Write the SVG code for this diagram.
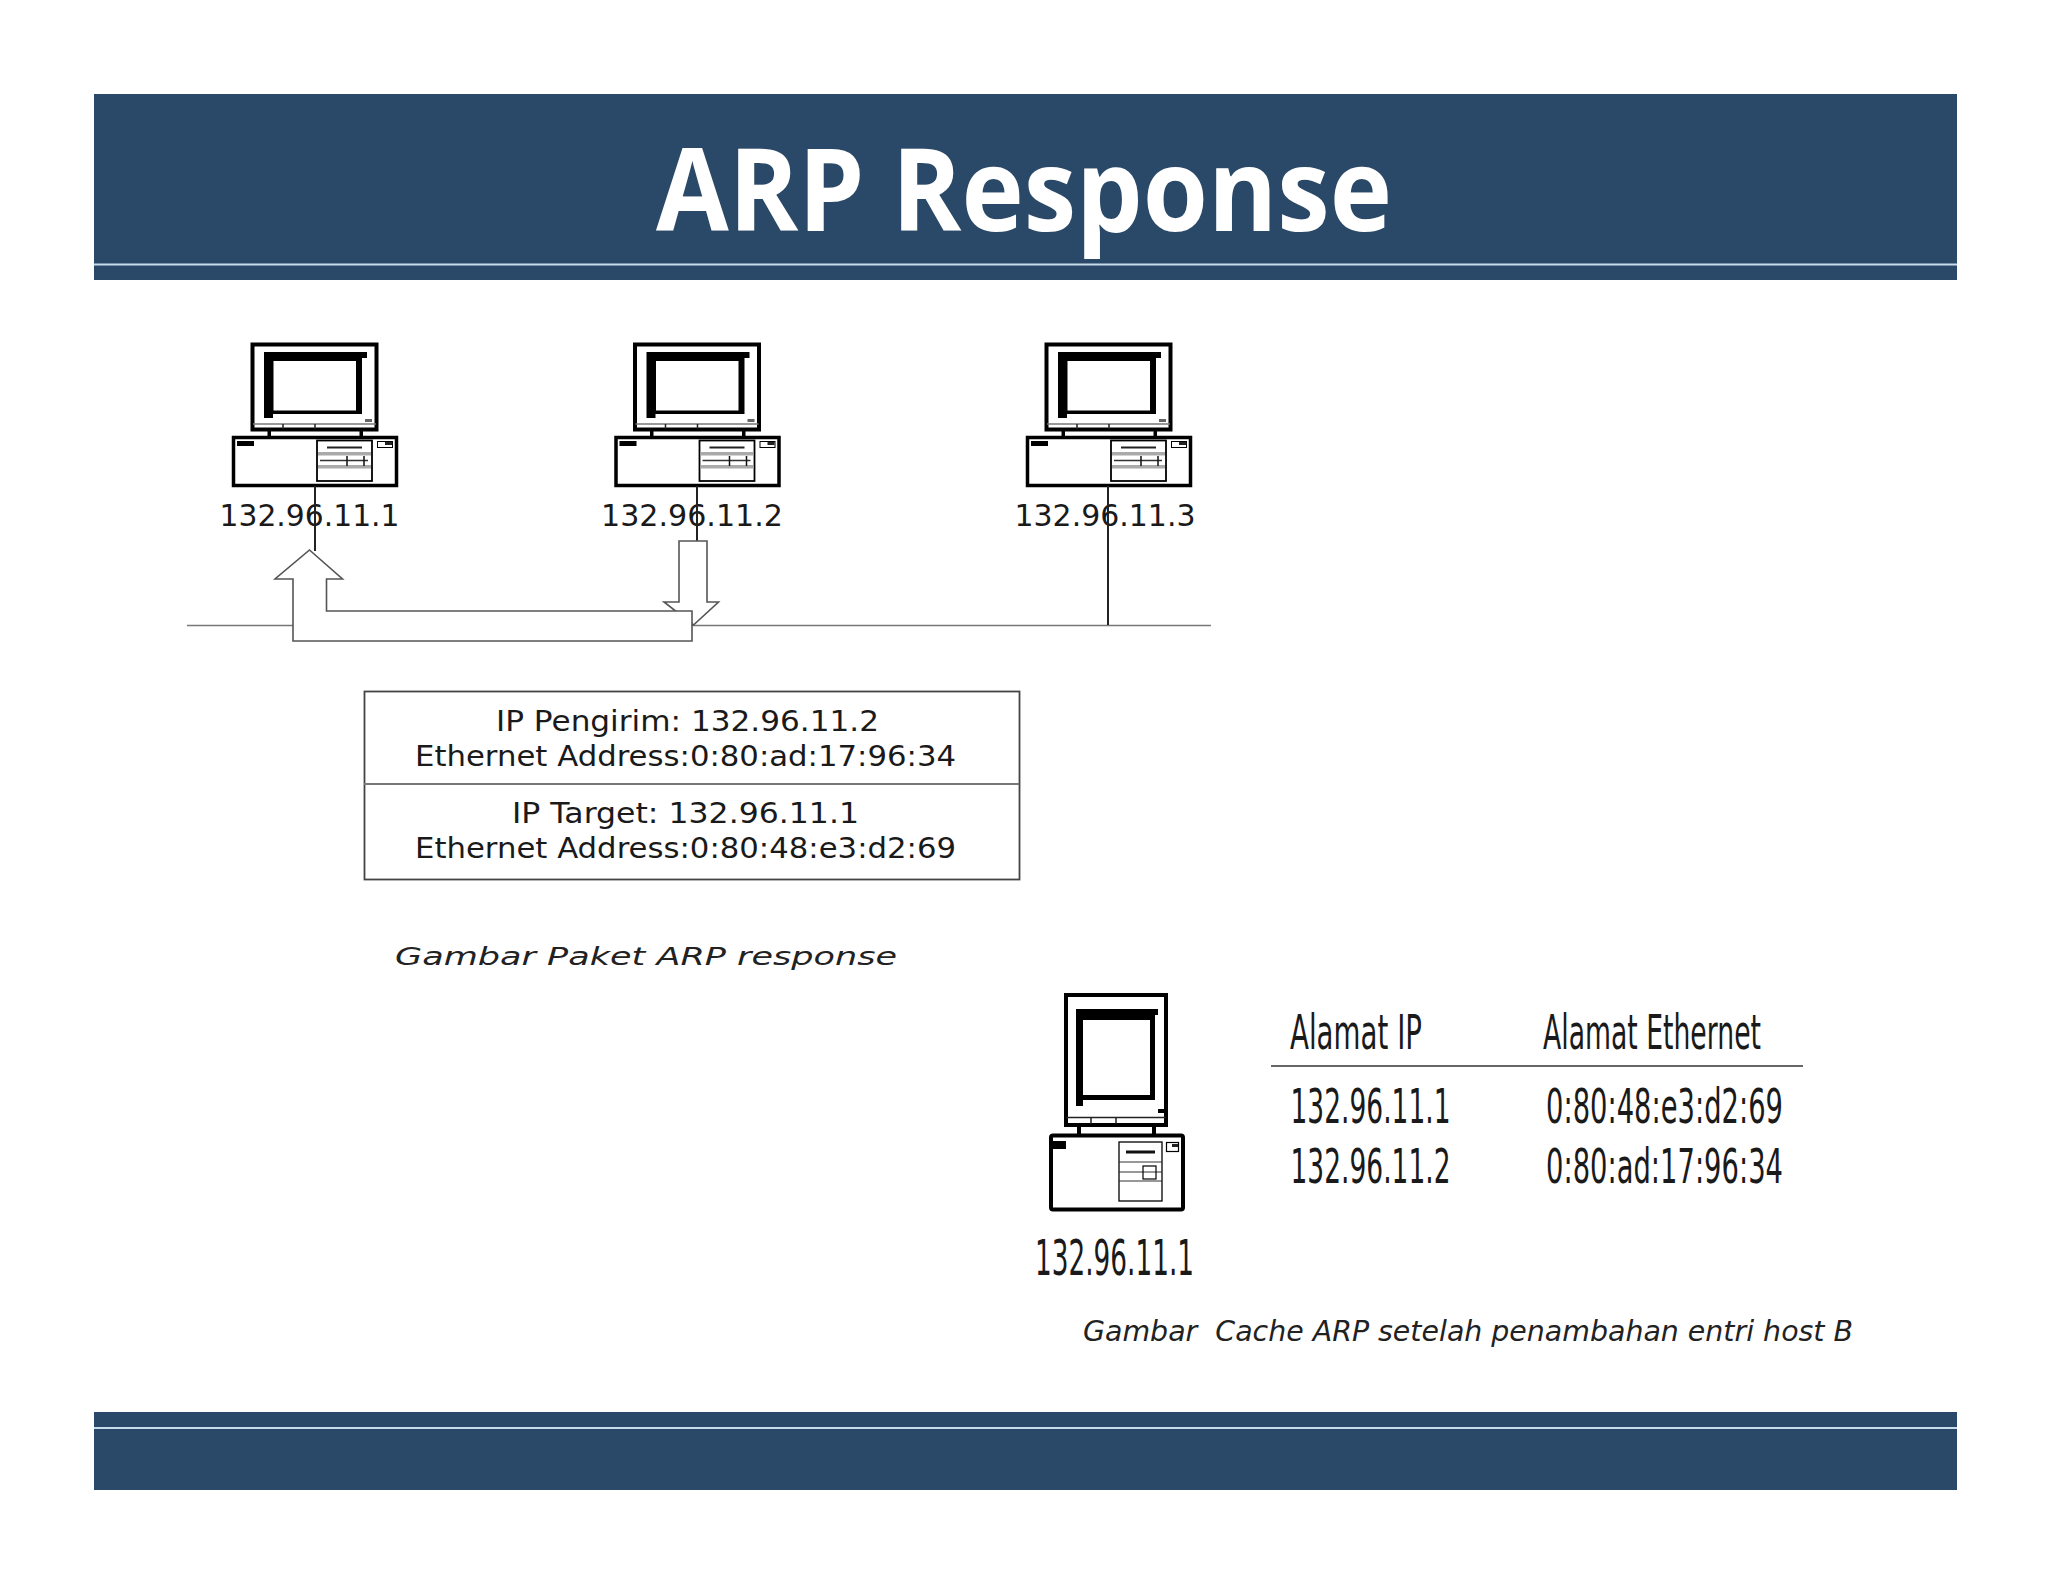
<svg xmlns="http://www.w3.org/2000/svg" width="2048" height="1582" viewBox="0 0 2048 1582">
<style>
.band{fill:#2a4868}
.rule{fill:#c9dcec}
.k{fill:#000}
.o{fill:#fff;stroke:#000}
.g{fill:#aaa}
.wire{stroke:#222;stroke-width:2;fill:none}
.bus{stroke:#777;stroke-width:1.6;fill:none}
.arrow{fill:#fff;stroke:#555;stroke-width:1.6}
.t{font-family:"DejaVu Sans",Verdana,sans-serif;fill:#1a1a1a}
.cap{font-family:"DejaVu Sans",sans-serif;font-style:italic;fill:#222;white-space:pre}
.title{font-family:"Open Sans",sans-serif;font-weight:700;fill:#fff;font-size:114px}
</style>
<defs>
<g id="pc">
<rect class="o" x="252.500" y="344.500" width="124" height="85" stroke-width="4"/>
<path class="k" d="M264 352H367V358H362V414H273V418H264Z"/>
<rect x="273.500" y="361" width="82.500" height="49.500" fill="#fff"/>
<rect x="365" y="419" width="7" height="3" fill="#666"/>
<path d="M253 424H376" stroke="#777" stroke-width="1.500"/>
<path d="M283 424V429M315 424V429" stroke="#222" stroke-width="1.500"/>
<rect class="k" x="267.500" y="431" width="3.500" height="6"/>
<rect class="k" x="359.500" y="431" width="3.500" height="6"/>
<rect class="o" x="233.500" y="437.500" width="163" height="48" stroke-width="3.500"/>
<rect class="k" x="237" y="441" width="17" height="5"/>
<rect class="o" x="317" y="440.500" width="55" height="40.500" stroke-width="1.800"/>
<rect class="g" x="318" y="452" width="53" height="3.500"/>
<rect class="g" x="318" y="465" width="53" height="3.500"/>
<path d="M327 447.500H362" stroke="#222" stroke-width="2"/>
<path d="M320 460.500H368" stroke="#333" stroke-width="1.300"/>
<path d="M347 456V466M364 456V466" stroke="#111" stroke-width="1.500"/>
<rect class="o" x="377.500" y="441.500" width="15" height="6" stroke-width="1"/>
<rect x="385" y="442" width="7" height="3" fill="#222"/>
</g>
</defs>
<rect width="2048" height="1582" fill="#fff"/>
<g id="header">
<rect class="band" x="94" y="94" width="1863" height="186"/>
<rect class="rule" x="94" y="263.500" width="1863" height="2"/>
<text class="title" x="656" y="231" textLength="736" lengthAdjust="spacingAndGlyphs">ARP Response</text>
</g>
<g id="footer">
<rect class="band" x="94" y="1412" width="1863" height="78"/>
<rect class="rule" x="94" y="1427" width="1863" height="2"/>
</g>
<g id="host-1">
<use href="#pc"/>
<text class="t" x="219.500" y="526" font-size="30" textLength="180" lengthAdjust="spacingAndGlyphs">132.96.11.1</text>
</g>
<g id="host-2">
<use href="#pc" x="382.500"/>
<text class="t" x="601" y="526" font-size="30" textLength="182" lengthAdjust="spacingAndGlyphs">132.96.11.2</text>
</g>
<g id="host-3">
<use href="#pc" x="794"/>
<text class="t" x="1014.500" y="526" font-size="30" textLength="181" lengthAdjust="spacingAndGlyphs">132.96.11.3</text>
</g>
<g id="connectors">
<path class="bus" d="M187 625.500H1211"/>
<path class="wire" d="M315 486V551"/>
<path class="wire" d="M697 486V541"/>
<path class="wire" d="M1108 486V625"/>
<polygon class="arrow" points="679,541 707,541 707,602 718.500,602 693.500,625 664,602 679,602"/>
<polygon class="arrow" points="309.500,550 342.500,579 326.500,579 326.500,611 692,611 692,641 293,641 293,579 275,579"/>
</g>
<g id="packet">
<rect x="364.500" y="691.500" width="655" height="188" fill="#fff" stroke="#444" stroke-width="1.800"/>
<path d="M364 784H1019" stroke="#777" stroke-width="2"/>
<text class="t" x="496" y="731" font-size="29" textLength="383" lengthAdjust="spacingAndGlyphs">IP Pengirim: 132.96.11.2</text>
<text class="t" x="415" y="766" font-size="29" textLength="541" lengthAdjust="spacingAndGlyphs">Ethernet Address:0:80:ad:17:96:34</text>
<text class="t" x="512" y="823" font-size="29" textLength="347" lengthAdjust="spacingAndGlyphs">IP Target: 132.96.11.1</text>
<text class="t" x="415" y="858" font-size="29" textLength="541" lengthAdjust="spacingAndGlyphs">Ethernet Address:0:80:48:e3:d2:69</text>
</g>
<text class="cap" id="caption-packet" x="395" y="965" font-size="24" textLength="502" lengthAdjust="spacingAndGlyphs">Gambar Paket ARP response</text>
<g id="host-a">
<rect class="o" x="1066" y="995" width="100" height="130" stroke-width="4"/>
<path class="k" d="M1076 1009H1158V1015H1155V1100H1083V1106H1076Z"/>
<rect x="1083" y="1020" width="67" height="75" fill="#fff"/>
<rect class="k" x="1158" y="1109" width="7" height="4"/>
<path d="M1066 1117.500H1166M1091 1117V1124M1116 1117V1124" stroke="#222" stroke-width="1.500" fill="none"/>
<rect class="k" x="1077" y="1127" width="4" height="7"/>
<rect class="k" x="1152" y="1127" width="4" height="7"/>
<rect class="o" x="1051" y="1135.500" width="132" height="74" rx="2" stroke-width="4"/>
<rect class="k" x="1052" y="1141" width="14" height="8"/>
<rect class="o" x="1119" y="1142" width="43" height="59" stroke-width="1.300"/>
<path d="M1126 1152H1155" stroke="#111" stroke-width="3"/>
<path d="M1119 1162H1162M1119 1172H1162M1119 1181H1162" stroke="#333" stroke-width="1.200"/>
<rect x="1143" y="1166" width="13" height="13" stroke="#000" stroke-width="1.200" fill="none"/>
<rect class="o" x="1166.500" y="1142.500" width="12" height="9" stroke-width="1.200"/>
<rect x="1172" y="1144" width="6" height="3" fill="#222"/>
<text class="t" transform="translate(1035 1275) scale(1 1.900)" font-size="26" textLength="159" lengthAdjust="spacingAndGlyphs">132.96.11.1</text>
</g>
<g id="cache-table">
<text class="t" x="1290" y="1049" font-size="48" textLength="132" lengthAdjust="spacingAndGlyphs">Alamat IP</text>
<text class="t" x="1543" y="1049" font-size="48" textLength="218" lengthAdjust="spacingAndGlyphs">Alamat Ethernet</text>
<path d="M1271 1066H1803" stroke="#666" stroke-width="2"/>
<text class="t" transform="translate(1290.500 1123) scale(1 1.800)" font-size="27" textLength="160" lengthAdjust="spacingAndGlyphs">132.96.11.1</text>
<text class="t" transform="translate(1546 1123) scale(1 1.800)" font-size="27" textLength="237" lengthAdjust="spacingAndGlyphs">0:80:48:e3:d2:69</text>
<text class="t" transform="translate(1290.500 1183) scale(1 1.800)" font-size="27" textLength="160" lengthAdjust="spacingAndGlyphs">132.96.11.2</text>
<text class="t" transform="translate(1546 1183) scale(1 1.800)" font-size="27" textLength="237" lengthAdjust="spacingAndGlyphs">0:80:ad:17:96:34</text>
</g>
<text class="cap" id="caption-cache" x="1083" y="1341" font-size="28" textLength="770" lengthAdjust="spacingAndGlyphs">Gambar  Cache ARP setelah penambahan entri host B</text>
</svg>
